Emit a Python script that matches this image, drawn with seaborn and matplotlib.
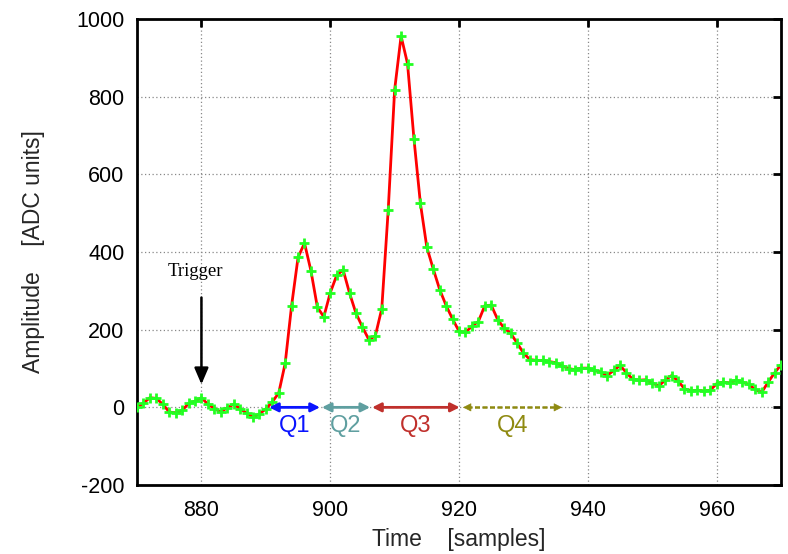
import numpy as np
import pandas as pd
import matplotlib
matplotlib.use("Agg")
import matplotlib.pyplot as plt
import seaborn as sns

# ---- data ----
time_samples = list(range(870, 971))
amplitude = [
    0, 11, 25, 23, 8, -12, -14, -8, 10, 16,            # 870-879
    25, 8, -3, -12, -1, 8, -3, -15, -25, -17,          # 880-889
    -4, 14, 37, 113, 262, 386, 423, 352, 258, 233,     # 890-899
    295, 340, 354, 294, 242, 207, 174, 184, 254, 508,  # 900-909
    818, 956, 885, 691, 525, 412, 356, 303, 262, 227,  # 910-919
    196, 193, 209, 221, 262, 263, 226, 204, 191, 166,  # 920-929
    140, 123, 121, 121, 118, 115, 107, 100, 97, 101,   # 930-939
    101, 95, 91, 82, 95, 108, 89, 72, 70, 71,          # 940-949
    63, 55, 70, 82, 68, 48, 42, 44, 42, 44,            # 950-959
    61, 65, 63, 70, 65, 59, 46, 39, 65, 89,            # 960-969
    110,                                               # 970
]
q_labels = ["Q1", "Q2", "Q3", "Q4"]
q_starts = [890.5, 898.7, 906.5, 920.6]
q_ends = [898.4, 906.2, 920.1, 936.0]
q_colors = ["#0a14ff", "#5f9fa0", "#c0302c", "#8f8a10"]
x_ticks = [880, 900, 920, 940, 960]
y_ticks = [-200, 0, 200, 400, 600, 800, 1000]

df = pd.DataFrame({"time": time_samples, "amp": amplitude})

sns.set_theme(style="white")
plt.rcParams["font.family"] = ["Liberation Sans", "DejaVu Sans"]
plt.rcParams["axes.unicode_minus"] = False

fig = plt.figure(figsize=(7.88, 5.54), dpi=100)
ax = fig.add_axes([0.1739, 0.1245, 0.8173, 0.8412])

sns.lineplot(data=df, x="time", y="amp", ax=ax, color="#ff0000", lw=2.0, zorder=3)
sns.scatterplot(data=df, x="time", y="amp", ax=ax, marker="+", color="#22ff22",
                s=50, linewidth=2.0, zorder=4)

ax.set_xlim(870, 970)
ax.set_ylim(-200, 1000)
ax.set_xticks(x_ticks)
ax.set_yticks(y_ticks)
ax.grid(True, color="#888888", linestyle=(0, (1, 2)), linewidth=0.9)
for s in ax.spines.values():
    s.set_linewidth(2.0)
    s.set_color("black")
ax.tick_params(axis="both", which="major", direction="in", length=6, width=2,
               top=True, right=True, labelsize=15.5, colors="black")
ax.tick_params(axis="x", pad=11)
ax.tick_params(axis="y", pad=9)

ax.set_xlabel("Time    [samples]", fontsize=16.5)
ax.set_ylabel("Amplitude    [ADC units]", fontsize=16.5)
ax.xaxis.set_label_coords(0.5, -0.093)
ax.yaxis.set_label_coords(-0.143, 0.5)

# Trigger annotation
ax.annotate("", xy=(880, 52), xytext=(880, 290),
            arrowprops=dict(arrowstyle="-|>,head_width=0.3,head_length=0.7",
                            color="black", lw=1.8, mutation_scale=14))
ax.text(879.0, 350, "Trigger", family=["Liberation Serif", "DejaVu Serif"],
        fontsize=13.5, ha="center", va="center", color="black")

# Q regions
for lab, x0, x1, c in zip(q_labels, q_starts, q_ends, q_colors):
    if lab == "Q4":
        ax.plot([x0 + 0.6, x1 - 0.6], [0, 0], color=c, lw=1.8, ls=(0, (2, 1)), zorder=5)
        ax.annotate("", xy=(x0, 0), xytext=(x0 + 1.2, 0),
                    arrowprops=dict(arrowstyle="-|>", color=c, lw=0.5, mutation_scale=13,
                                    shrinkA=0, shrinkB=0))
        ax.annotate("", xy=(x1, 0), xytext=(x1 - 1.2, 0),
                    arrowprops=dict(arrowstyle="-|>", color=c, lw=0.5, mutation_scale=13,
                                    shrinkA=0, shrinkB=0))
    else:
        ax.annotate("", xy=(x1, 0), xytext=(x0, 0),
                    arrowprops=dict(arrowstyle="<|-|>", color=c, lw=2.0, mutation_scale=13,
                                    shrinkA=0, shrinkB=0), zorder=5)
    ax.text((x0 + x1) / 2, -48, lab, color=c, fontsize=17, ha="center", va="center")

fig.savefig("out.png", dpi=100)
